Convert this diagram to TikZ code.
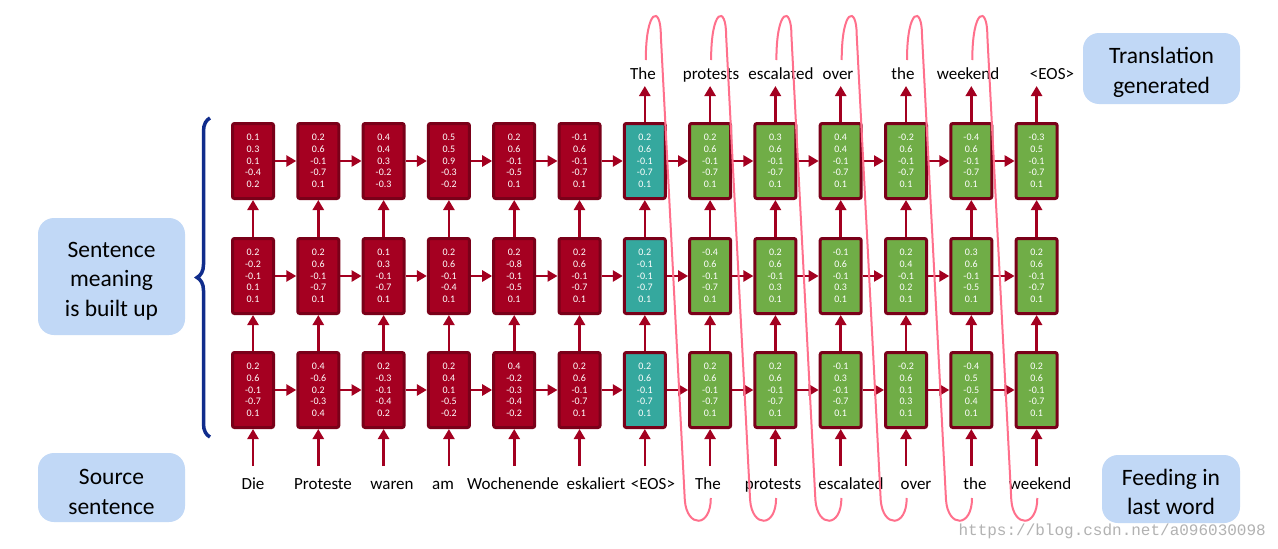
\documentclass[tikz,border=0pt]{standalone}
\usepackage{fontspec}
\setmainfont{Carlito}
\setmonofont{Liberation Mono}
\usetikzlibrary{arrows.meta,decorations.pathreplacing}
\definecolor{boxred}{RGB}{165,0,33}
\definecolor{boxborder}{RGB}{122,0,25}
\definecolor{boxteal}{RGB}{53,168,158}
\definecolor{boxgreen}{RGB}{112,173,71}
\definecolor{arrred}{RGB}{163,0,32}
\definecolor{bubblec}{RGB}{193,216,246}
\definecolor{bracec}{RGB}{16,44,140}
\definecolor{pinkc}{RGB}{255,112,140}
\newcommand\mynums[5]{#1\\#2\\#3\\#4\\#5}
\newcommand\boxrow[3]{%
  \foreach \c/\vv in {#3}{%
    \pgfmathsetmacro\xx{253+65.3*(\c-1)}%
    \ifnum\c<7 \def\fc{boxred}\else\ifnum\c=7 \def\fc{boxteal}\else\def\fc{boxgreen}\fi\fi
    \node[vbox, fill=\fc] (b#1-\c) at (\xx,#2) {\vv};
  }}
\begin{document}
\begin{tikzpicture}[x=1pt,y=-1pt,
  vbox/.style={draw=boxborder, line width=3pt, rounded corners=2pt, minimum width=41pt, minimum height=75pt, inner sep=0pt, text=white, align=center, font=\fontsize{10}{11.7}\selectfont},
  arr/.style={draw=arrred, line width=2.6pt, -{Triangle[length=10pt,width=11pt]}},
  word/.style={font=\fontsize{17}{20}\selectfont, anchor=base, inner sep=0pt},
  bubble/.style={fill=bubblec, rounded corners=16pt, inner sep=0pt},
  bubtext/.style={align=center, font=\fontsize{23.5}{29.5}\selectfont, inner sep=0pt},
  pinkline/.style={draw=pinkc, line width=2pt},
  bracestyle/.style={draw=bracec, line width=3.5pt, decorate, decoration={brace, amplitude=13pt}},
]
\useasboundingbox (0,0) rectangle (1278,549);
\fill[white] (0,0) rectangle (1278,549);

% boxes
\boxrow{1}{161}{1/{\mynums{0.1}{0.3}{0.1}{-0.4}{0.2}},
 2/{\mynums{0.2}{0.6}{-0.1}{-0.7}{0.1}},
 3/{\mynums{0.4}{0.4}{0.3}{-0.2}{-0.3}},
 4/{\mynums{0.5}{0.5}{0.9}{-0.3}{-0.2}},
 5/{\mynums{0.2}{0.6}{-0.1}{-0.5}{0.1}},
 6/{\mynums{-0.1}{0.6}{-0.1}{-0.7}{0.1}},
 7/{\mynums{0.2}{0.6}{-0.1}{-0.7}{0.1}},
 8/{\mynums{0.2}{0.6}{-0.1}{-0.7}{0.1}},
 9/{\mynums{0.3}{0.6}{-0.1}{-0.7}{0.1}},
 10/{\mynums{0.4}{0.4}{-0.1}{-0.7}{0.1}},
 11/{\mynums{-0.2}{0.6}{-0.1}{-0.7}{0.1}},
 12/{\mynums{-0.4}{0.6}{-0.1}{-0.7}{0.1}},
 13/{\mynums{-0.3}{0.5}{-0.1}{-0.7}{0.1}}}
\boxrow{2}{276}{1/{\mynums{0.2}{-0.2}{-0.1}{0.1}{0.1}},
 2/{\mynums{0.2}{0.6}{-0.1}{-0.7}{0.1}},
 3/{\mynums{0.1}{0.3}{-0.1}{-0.7}{0.1}},
 4/{\mynums{0.2}{0.6}{-0.1}{-0.4}{0.1}},
 5/{\mynums{0.2}{-0.8}{-0.1}{-0.5}{0.1}},
 6/{\mynums{0.2}{0.6}{-0.1}{-0.7}{0.1}},
 7/{\mynums{0.2}{-0.1}{-0.1}{-0.7}{0.1}},
 8/{\mynums{-0.4}{0.6}{-0.1}{-0.7}{0.1}},
 9/{\mynums{0.2}{0.6}{-0.1}{0.3}{0.1}},
 10/{\mynums{-0.1}{0.6}{-0.1}{0.3}{0.1}},
 11/{\mynums{0.2}{0.4}{-0.1}{0.2}{0.1}},
 12/{\mynums{0.3}{0.6}{-0.1}{-0.5}{0.1}},
 13/{\mynums{0.2}{0.6}{-0.1}{-0.7}{0.1}}}
\boxrow{3}{390}{1/{\mynums{0.2}{0.6}{-0.1}{-0.7}{0.1}},
 2/{\mynums{0.4}{-0.6}{0.2}{-0.3}{0.4}},
 3/{\mynums{0.2}{-0.3}{-0.1}{-0.4}{0.2}},
 4/{\mynums{0.2}{0.4}{0.1}{-0.5}{-0.2}},
 5/{\mynums{0.4}{-0.2}{-0.3}{-0.4}{-0.2}},
 6/{\mynums{0.2}{0.6}{-0.1}{-0.7}{0.1}},
 7/{\mynums{0.2}{0.6}{-0.1}{-0.7}{0.1}},
 8/{\mynums{0.2}{0.6}{-0.1}{-0.7}{0.1}},
 9/{\mynums{0.2}{0.6}{-0.1}{-0.7}{0.1}},
 10/{\mynums{-0.1}{0.3}{-0.1}{-0.7}{0.1}},
 11/{\mynums{-0.2}{0.6}{0.1}{0.3}{0.1}},
 12/{\mynums{-0.4}{0.5}{-0.5}{0.4}{0.1}},
 13/{\mynums{0.2}{0.6}{-0.1}{-0.7}{0.1}}}

% horizontal arrows
\foreach \r in {1,2,3}{
  \foreach \c [evaluate=\c as \n using int(\c+1)] in {1,...,12}{
    \draw[arr] (b\r-\c) -- (b\r-\n);
  }
}
% vertical arrows
\foreach \c in {1,...,13}{
  \pgfmathsetmacro\xx{253+65.3*(\c-1)}
  \coordinate (in\c) at (\xx,466);
  \draw[arr] (in\c) -- (b3-\c);
  \draw[arr] (b3-\c) -- (b2-\c);
  \draw[arr] (b2-\c) -- (b1-\c);
}
\foreach \c in {7,...,13}{
  \pgfmathsetmacro\xx{253+65.3*(\c-1)}
  \coordinate (out\c) at (\xx,86);
  \draw[arr] (b1-\c) -- (out\c);
}

% source words
\foreach \c/\x/\w in {1/253/Die, 2/323/Proteste, 3/392/waren, 4/443/am, 5/513/Wochenende, 6/596/eskaliert, 7/653/{<EOS>}, 8/708/The, 9/773/protests, 10/851/escalated, 11/916/over, 12/975/the, 13/1040/weekend}{
  \node[word] (w\c) at (\x,489) {\w};
}
% generated words
\foreach \c/\x/\w in {7/643/The, 8/711/protests, 9/781/escalated, 10/838/over, 11/903/the, 12/968/weekend, 13/1052/{<EOS>}}{
  \node[word] (o\c) at (\x,79) {\w};
}

% pink feeding loops
\foreach \c in {7,...,12}{
  \pgfmathsetmacro\xo{253+65.3*(\c-1)}
  \draw[pinkline] (\xo+1,60) .. controls (\xo+1,8) and (\xo+16,5) .. (\xo+16,35)
     -- (\xo+40,500) .. controls (\xo+42,528) and (\xo+66,528) .. (\xo+66,498);
}

% brace
\coordinate (braceTop) at (210,118);
\coordinate (braceBot) at (210,437);
\draw[bracestyle] (braceBot) -- (braceTop);

% bubbles
\node[bubble, minimum width=147pt, minimum height=117pt] (bmeaning) at (111.5,276.5) {};
\node[bubtext] (tmeaning) at ([yshift=-4.5pt]bmeaning.center) {Sentence\\meaning\\is built up};
\node[bubble, minimum width=147pt, minimum height=69pt] (bsource) at (111.5,487.5) {};
\node[bubtext] (tsource) at ([yshift=-4.5pt]bsource.center) {Source\\sentence};
\node[bubble, minimum width=157pt, minimum height=71pt] (btrans) at (1161.5,68.5) {};
\node[bubtext] (ttrans) at ([yshift=-4pt]btrans.center) {Translation\\generated};
\node[bubble, minimum width=138pt, minimum height=68pt] (bfeed) at (1171,489) {};
\node[bubtext] (tfeed) at ([yshift=-3pt]bfeed.center) {Feeding in\\last word};

% watermark
\node[text=gray!60, font=\ttfamily\fontsize{16}{17}\selectfont, anchor=base east, inner sep=0pt] (wm) at (1266,535) {https://blog.csdn.net/a096030098};
\end{tikzpicture}
\end{document}
